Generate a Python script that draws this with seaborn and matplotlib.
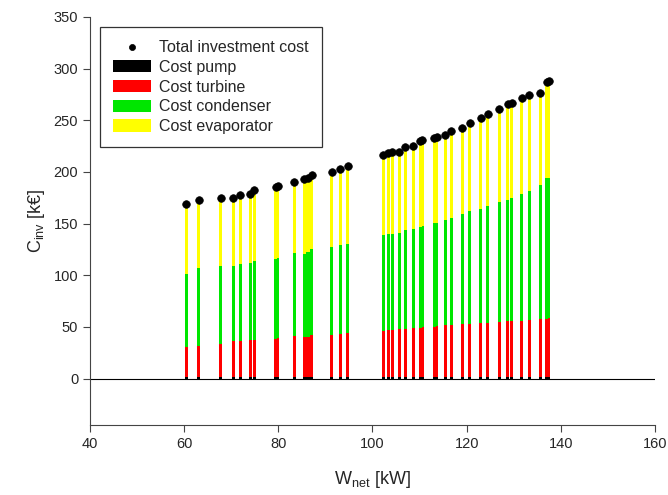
import numpy as np
import pandas as pd
import seaborn as sns
import matplotlib.pyplot as plt

# net power [kW]
w_net = [60.5, 63.1, 67.8, 70.4, 71.9, 74.0, 74.9, 79.5, 79.9, 83.4,
         85.5, 86.3, 87.1, 91.3, 93.2, 94.7,
         102.3, 103.4, 104.2, 105.7, 107.0, 108.7, 110.1, 110.6, 113.1, 113.6,
         115.5, 116.7, 119.1, 120.7, 123.0, 124.5, 126.9, 128.7, 129.6, 131.7,
         133.3, 135.6, 137.0, 137.4]

# cost components [k€]
cost_pump = [1.5] * 40
cost_turbine = [28.6, 29.6, 31.9, 35.1, 34.4, 36.1, 35.8, 37.1, 37.5, 39.3,
                38.3, 39.0, 40.6, 40.6, 41.6, 42.2,
                44.8, 45.5, 45.5, 46.5, 46.5, 47.4, 47.8, 48.2, 48.8, 49.2,
                50.4, 50.4, 51.3, 51.3, 51.9, 52.3, 53.6, 53.9, 53.9, 54.5,
                55.2, 56.2, 56.5, 56.8]
cost_condenser = [71.3, 76.1, 75.1, 71.9, 75.2, 74.1, 76.3, 76.9, 77.5, 81.0,
                  81.0, 81.6, 83.6, 85.1, 86.1, 86.8,
                  92.3, 92.6, 93.2, 92.8, 95.4, 96.2, 97.7, 97.9, 99.9, 100.1,
                  101.3, 103.5, 106.2, 109.4, 111.1, 113.2, 115.8, 117.9, 119.8, 122.4,
                  124.9, 129.4, 135.8, 135.9]
cost_evaporator = [68.0, 65.4, 66.3, 66.5, 67.0, 67.4, 68.7, 70.0, 70.3, 68.6,
                   71.9, 72.5, 71.2, 72.9, 73.5, 75.1,
                   77.7, 78.3, 78.7, 78.7, 80.9, 80.2, 83.0, 83.7, 82.4, 82.8,
                   82.5, 84.2, 83.2, 84.9, 87.4, 88.8, 89.8, 92.2, 91.3, 92.9,
                   92.9, 89.7, 93.2, 93.8]

df = pd.DataFrame({
    "W": w_net,
    "pump": cost_pump,
    "turbine": cost_turbine,
    "condenser": cost_condenser,
    "evaporator": cost_evaporator,
})
df["total"] = df[["pump", "turbine", "condenser", "evaporator"]].sum(axis=1)

sns.set_style("ticks")
plt.rcParams["font.family"] = ["Liberation Sans", "DejaVu Sans"]
plt.rcParams["mathtext.fontset"] = "custom"
plt.rcParams["mathtext.rm"] = "Liberation Sans"

fig = plt.figure(figsize=(6.68, 4.95), dpi=100)
ax = fig.add_axes([0.1347, 0.1414, 0.8458, 0.8243])

w = 0.65
bottom = np.zeros(len(df))
parts = [("pump", "black", "Cost pump"),
         ("turbine", "#ff0000", "Cost turbine"),
         ("condenser", "#00e600", "Cost condenser"),
         ("evaporator", "#ffff00", "Cost evaporator")]
for col, c, lab in parts:
    ax.bar(df["W"], df[col], width=w, bottom=bottom, color=c,
           label=lab, linewidth=0, zorder=2)
    bottom += df[col].values

sns.scatterplot(data=df, x="W", y="total", color="black", s=30,
                edgecolor="black", linewidth=0.5, zorder=3, ax=ax,
                label="Total investment cost")

ax.axhline(0, color="black", linewidth=0.8, zorder=1)

ax.set_xlim(40, 160)
ax.set_ylim(-45, 350)
ax.set_xticks(range(40, 161, 20))
ax.set_yticks(range(0, 351, 50))
ax.tick_params(labelsize=10.5, length=5, width=0.8, color="#444444")
for s in ["top", "right"]:
    ax.spines[s].set_visible(False)
for s in ["left", "bottom"]:
    ax.spines[s].set_color("#444444")
    ax.spines[s].set_linewidth(0.8)

ax.set_xlabel(r"$\mathregular{W_{net}}$ [kW]", fontsize=13, labelpad=13)
ax.set_ylabel(r"$\mathregular{C_{inv}}$ [k€]", fontsize=13, labelpad=5)

handles, labels = ax.get_legend_handles_labels()
order = ["Total investment cost", "Cost pump", "Cost turbine",
         "Cost condenser", "Cost evaporator"]
hmap = dict(zip(labels, handles))
leg = ax.legend([hmap[k] for k in order], order, loc="upper left",
                bbox_to_anchor=(0.018, 0.975), fontsize=11.5, frameon=True,
                fancybox=False, edgecolor="black", handlelength=2.4,
                handleheight=0.8, labelspacing=0.3, borderpad=0.8,
                handletextpad=0.5, borderaxespad=0, markerscale=0.8)
leg.get_frame().set_linewidth(0.9)

fig.savefig("out.png", dpi=100)
